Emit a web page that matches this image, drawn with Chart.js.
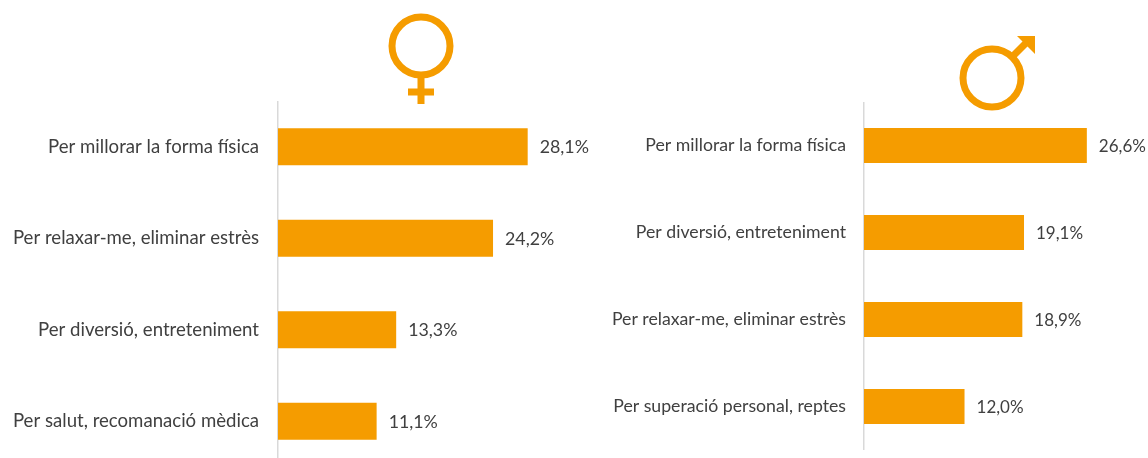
<!DOCTYPE html>
<html>
<head>
<meta charset="utf-8">
<script src="https://cdn.jsdelivr.net/npm/chart.js@4"></script>
<style>
  html, body { margin: 0; padding: 0; background: #fff; overflow: hidden; width: 1148px; height: 458px; }
  canvas, svg { position: absolute; }
</style>
</head>
<body>
<canvas id="chartDones" style="left:0;top:101px"></canvas>
<canvas id="chartHomes" style="left:600px;top:102px"></canvas>

<!-- simbols -->
<svg style="left:0;top:0" width="1148" height="120" fill="none" stroke="#f59c00" stroke-width="7">
  <circle cx="421" cy="46" r="29"></circle>
  <path d="M421 75V104M408 92H434"></path>
  <circle cx="992" cy="78" r="29"></circle>
  <path d="M1012 57L1026 43"></path>
  <path d="M1017 36H1035V54Z" fill="#f59c00" stroke="none"></path>
</svg>

<script>
const categoriesDones = ['Per millorar la forma física', 'Per relaxar-me, eliminar estrès', 'Per diversió, entreteniment', 'Per salut, recomanació mèdica'];
const valuesDones = [28.1, 24.2, 13.3, 11.1];
const categoriesHomes = ['Per millorar la forma física', 'Per diversió, entreteniment', 'Per relaxar-me, eliminar estrès', 'Per superació personal, reptes'];
const valuesHomes = [26.6, 19.1, 18.9, 12.0];

const FONT = 'Lato, "Open Sans", sans-serif';

// etiquetes de valor al final de cada barra
const valueLabels = {
    id: 'valueLabels',
    afterDatasetsDraw(chart, args, opts) {
        const ctx = chart.ctx;
        ctx.save();
        ctx.font = opts.size + 'px ' + FONT;
        ctx.fillStyle = '#404040';
        ctx.textBaseline = 'middle';
        chart.getDatasetMeta(0).data.forEach((bar, i) => {
            const text = chart.data.datasets[0].data[i].toFixed(1).replace('.', ',') + '%';
            ctx.fillText(text, bar.x + 12, bar.y + 1);
        });
        ctx.restore();
    }
};

function createChart(id, labels, values, w, h, axisWidth, max, fontSize, padding, valueSize) {
    const canvas = document.getElementById(id);
    canvas.width = w;
    canvas.height = h;
    canvas.style.width = w + 'px';
    canvas.style.height = h + 'px';
    new Chart(canvas.getContext('2d'), {
        type: 'bar',
        data: {
            labels: labels,
            datasets: [{
                data: values,
                backgroundColor: '#f59c00',
                categoryPercentage: 1,
                barPercentage: 0.404
            }]
        },
        options: {
            indexAxis: 'y',
            responsive: false,
            animation: false,
            layout: { padding: 0, autoPadding: false },
            plugins: {
                legend: { display: false },
                tooltip: { enabled: false },
                valueLabels: { size: valueSize }
            },
            scales: {
                x: { display: false, min: 0, max: max },
                y: {
                    afterFit(scale) {
                        // l'eix ha d'ocupar tota l'alcada del canvas
                        scale.width = axisWidth;
                        scale.paddingTop = 0;
                        scale.paddingBottom = 0;
                    },
                    grid: { display: false },
                    border: { color: '#d9d9d9', width: 1.5 },
                    ticks: {
                        autoSkip: false,
                        padding: padding,
                        color: '#404040',
                        font: { family: FONT, size: fontSize }
                    }
                }
            }
        },
        plugins: [valueLabels]
    });
}

createChart('chartDones', categoriesDones, valuesDones, 597, 366, 278, 35.9, 18.6, 11, 17.8);
createChart('chartHomes', categoriesHomes, valuesHomes, 548, 348, 264, 33.9, 17.7, 10, 17);
</script>
</body>
</html>
